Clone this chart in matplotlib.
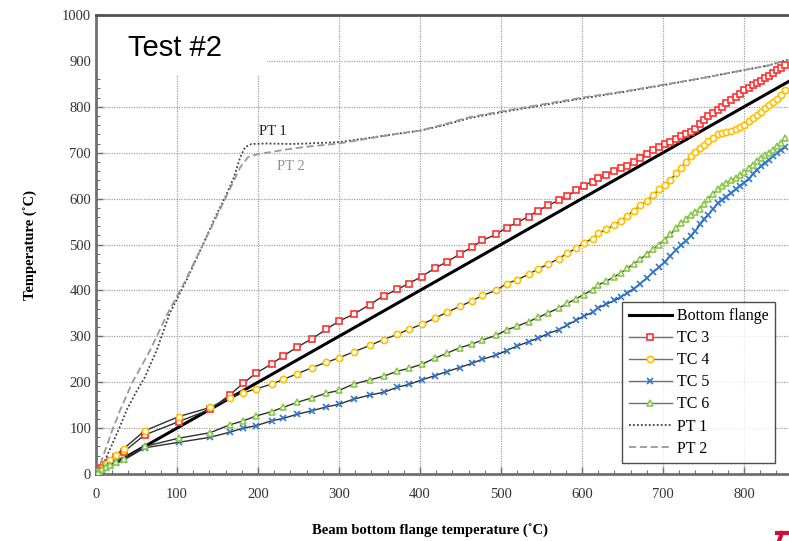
import matplotlib
matplotlib.use("Agg")
import matplotlib.pyplot as plt
from matplotlib.patches import Rectangle
from matplotlib.lines import Line2D
from matplotlib.ticker import MultipleLocator

plt.rcParams['font.family'] = ['Liberation Serif', 'DejaVu Serif']

# bottom flange temperature (x) at each recorded step
tc_x = [3, 8, 12, 17, 25, 34, 60, 102, 141, 165, 182, 197, 217, 231, 248, 267, 284, 300,
        318, 338, 355, 372, 386, 402, 418, 433, 449, 464, 477, 494, 507, 520, 534, 546,
        558, 571, 582, 593, 602, 613, 620, 630, 640, 648, 656, 664, 672, 680, 688, 695,
        702, 709, 716, 722, 728, 734, 740, 746, 751, 756, 762, 768, 773, 778, 784, 790,
        795, 800, 806, 811, 816, 821, 826, 831, 836, 841, 846, 851]

tc3 = [3, 12, 20, 28, 38, 48, 85, 114, 141, 172, 198, 219, 240, 257, 276, 295, 315, 333,
       348, 369, 388, 402, 415, 430, 448, 462, 479, 494, 509, 522, 537, 548, 561, 574,
       585, 596, 606, 618, 628, 637, 644, 652, 660, 666, 672, 680, 689, 697, 705, 712,
       718, 724, 730, 736, 741, 746, 752, 762, 772, 779, 786, 794, 800, 808, 815, 821,
       828, 836, 842, 847, 852, 857, 863, 868, 874, 880, 885, 891]

tc4 = [4, 14, 22, 30, 42, 55, 94, 125, 145, 165, 177, 185, 196, 206, 218, 232, 243, 253,
       266, 280, 293, 304, 315, 326, 339, 352, 365, 377, 389, 400, 415, 423, 435, 447,
       457, 469, 481, 492, 503, 513, 524, 533, 543, 552, 563, 574, 585, 595, 608, 620,
       630, 640, 655, 667, 680, 692, 702, 710, 716, 726, 733, 740, 744, 746, 748, 751,
       756, 761, 768, 775, 782, 789, 797, 804, 810, 818, 826, 836]

tc5 = [2, 8, 13, 18, 24, 30, 57, 69, 80, 91, 100, 105, 116, 121, 130, 138, 146, 152,
       163, 172, 178, 189, 195, 205, 214, 223, 232, 241, 250, 259, 269, 279, 288, 296,
       306, 314, 325, 335, 344, 352, 362, 370, 378, 386, 394, 404, 415, 427, 440, 450,
       462, 475, 488, 498, 508, 518, 530, 544, 555, 565, 578, 590, 598, 604, 612, 620,
       628, 635, 643, 654, 663, 670, 677, 685, 693, 700, 706, 712]

tc6 = [3, 10, 16, 20, 26, 33, 60, 78, 90, 107, 116, 126, 136, 145, 156, 166, 176, 182,
       196, 205, 213, 224, 230, 239, 252, 263, 275, 283, 292, 302, 314, 322, 332, 341,
       351, 361, 372, 382, 391, 401, 412, 420, 430, 438, 448, 458, 468, 479, 490, 500,
       510, 522, 535, 546, 556, 564, 570, 578, 589, 600, 611, 620, 628, 634, 640, 645,
       651, 657, 666, 674, 682, 688, 694, 700, 706, 714, 722, 732]

bf_x = [3, 855]
bf_y = [3, 855]

pt1_x = [0, 5, 10, 20, 30, 38, 50, 60, 75, 91, 112, 132, 150, 160, 170, 178, 184, 192,
         210, 240, 260, 300, 340, 375, 400, 430, 460, 500, 550, 600, 650, 700, 750, 800,
         830, 855]
pt1_y = [0, 10, 25, 65, 105, 140, 180, 210, 270, 350, 423, 500, 570, 605, 645, 690, 712,
         719, 720, 719, 720, 723, 733, 742, 748, 760, 775, 788, 803, 818, 832, 847, 863,
         880, 890, 903]

pt2_x = [0, 5, 10, 20, 30, 45, 67, 87, 110, 132, 150, 165, 178, 188, 200, 211, 235, 260,
         300, 340, 375, 400, 430, 460, 500, 550, 600, 650, 700, 750, 800, 830, 855]
pt2_y = [0, 20, 45, 95, 140, 200, 270, 345, 420, 500, 565, 620, 668, 691, 697, 700, 707,
         713, 720, 732, 742, 748, 762, 777, 790, 805, 820, 833, 848, 863, 880, 890, 902]

fig = plt.figure(figsize=(7.89, 5.41), dpi=100)
ax = fig.add_axes([96 / 789, 67 / 541, 870 * 0.81 / 789, 459 / 541])

line_c = '#303030'
ax.plot(bf_x, bf_y, color='black', lw=2.2, label='Bottom flange', zorder=3)
ax.plot(tc_x, tc3, color=line_c, lw=1, marker='s', ms=5, mfc='white', mec='#ff3030',
        mew=1.2, label='TC 3', zorder=4)
ax.plot(tc_x, tc4, color=line_c, lw=1, marker='o', ms=4.5, mfc='white', mec='#ffc000',
        mew=1.2, label='TC 4', zorder=4)
ax.plot(tc_x, tc5, color=line_c, lw=1, marker='x', ms=4.5, mec='#2e78d2',
        mew=1.2, label='TC 5', zorder=4)
ax.plot(tc_x, tc6, color=line_c, lw=1, marker='^', ms=5, mfc='white', mec='#8cc84b',
        mew=1.2, label='TC 6', zorder=4)
ax.plot(pt1_x, pt1_y, color='#404040', lw=1.3, ls=(0, (1, 1.2)), label='PT 1', zorder=2)
ax.plot(pt2_x, pt2_y, color='#999999', lw=1.3, ls=(0, (4, 2)), label='PT 2', zorder=2)

ax.text(218, 747, 'PT 1', fontsize=10.5, color='#202020', ha='center', va='center')
ax.text(241, 669, 'PT 2', fontsize=10.5, color='#909090', ha='center', va='center')

ax.set_xlim(0, 870)
ax.set_ylim(0, 1000)
ax.xaxis.set_major_locator(MultipleLocator(100))
ax.xaxis.set_minor_locator(MultipleLocator(20))
ax.yaxis.set_major_locator(MultipleLocator(100))
ax.yaxis.set_minor_locator(MultipleLocator(20))
ax.set_xticks(range(0, 900, 100))
ax.tick_params(which='both', direction='in', colors='#707070', labelcolor='#333333',
               labelsize=10.5)
ax.tick_params(which='major', length=5, width=1)
ax.tick_params(which='minor', length=3, width=0.8)
ax.tick_params(axis='x', pad=10)
ax.grid(True, which='major', ls=(0, (1, 1)), color='#a0a0a0', lw=0.9)
ax.set_axisbelow(True)
for s in ['left', 'bottom', 'top']:
    ax.spines[s].set_color('#707070')
    ax.spines[s].set_linewidth(2)
ax.spines['top'].set_color('#505050')
ax.spines['right'].set_visible(False)

# white patch behind the test label
ax.add_patch(Rectangle((0, 399 / 459), 171 / 705, 59 / 459, transform=ax.transAxes,
                       facecolor='white', edgecolor='none', zorder=1))
ax.text(32 / 705, 1 - 33 / 459, 'Test #2', transform=ax.transAxes, fontsize=21,
        family='Liberation Sans', ha='left', va='center', zorder=5)

ax.set_xlabel('Beam bottom flange temperature (˚C)', fontsize=10.5, weight='bold')
ax.set_ylabel('Temperature (˚C)', fontsize=10.5, weight='bold')
ax.xaxis.set_label_coords(334 / 705, -50 / 459)
ax.yaxis.set_label_coords(-58 / 705, 0.5)

leg = ax.legend(loc='lower right', bbox_to_anchor=(679 / 705, 11 / 459), borderaxespad=0,
                fontsize=11.5, frameon=True, fancybox=False, handlelength=2.7,
                handletextpad=0.3, labelspacing=0.38, borderpad=0.4)
leg.get_frame().set_edgecolor('#202020')
leg.get_frame().set_linewidth(1)
for h in leg.get_lines()[1:5]:
    h.set_color('#707070')

fig.add_artist(Line2D([777 / 789, 789 / 789], [8 / 541, 8 / 541], color='#d0103a', lw=3))
fig.add_artist(Line2D([782 / 789, 779 / 789], [8 / 541, 0], color='#d0103a', lw=3))

fig.savefig('out.png', dpi=100)
